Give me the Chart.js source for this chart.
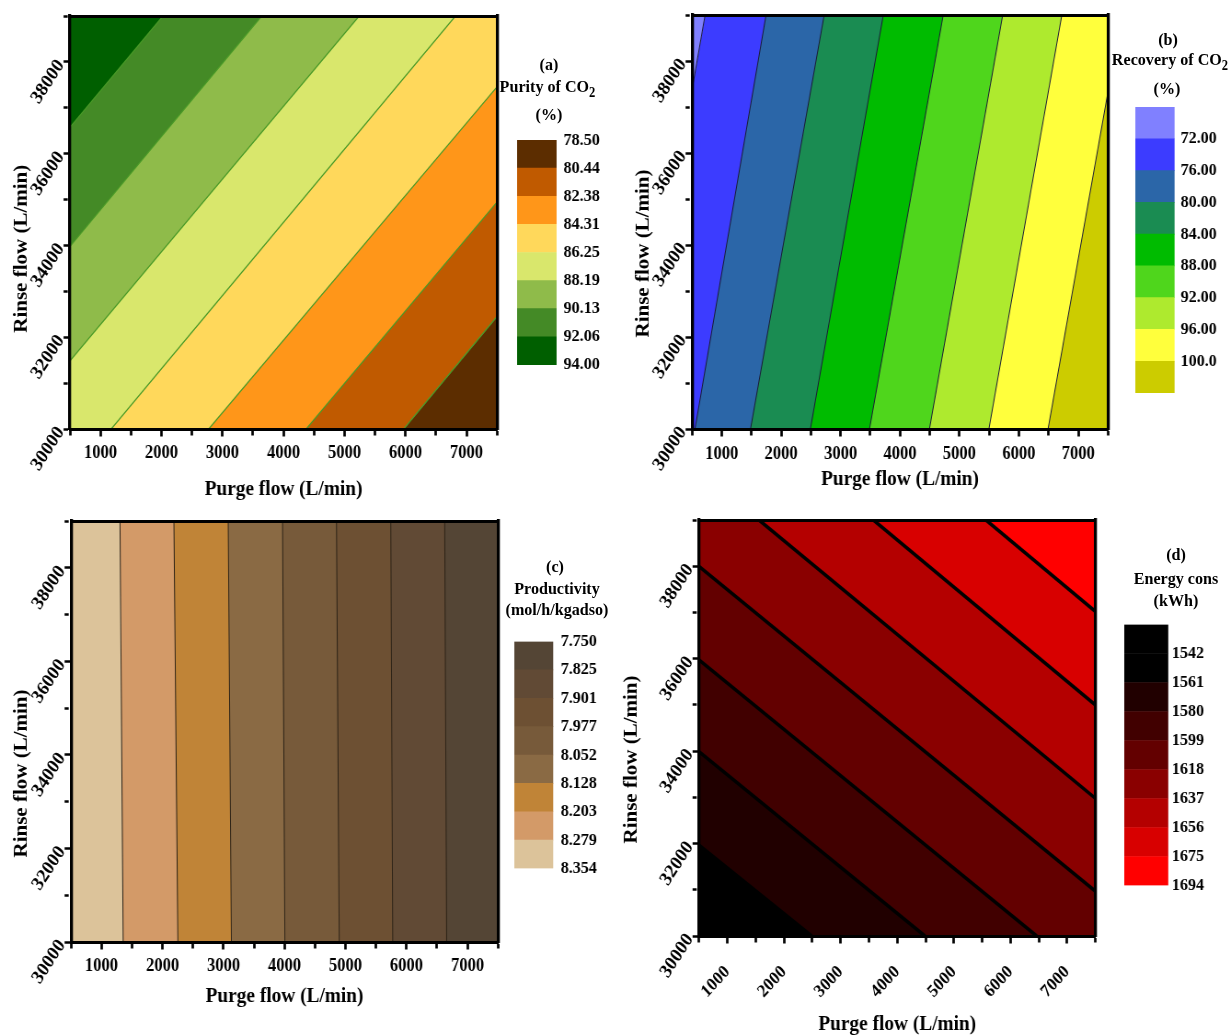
<!DOCTYPE html>
<html lang="en">
<head>
<meta charset="utf-8">
<title>Rinse / purge flow response surfaces</title>
<script src="https://cdn.jsdelivr.net/npm/chart.js@4.4.0/dist/chart.umd.min.js"></script>
<style>
  html, body { margin: 0; padding: 0; background: #fff; overflow: hidden; }
  #page { position: absolute; left: 0; top: 0; width: 1336px; height: 1035px;
          transform: scaleX(0.92); transform-origin: 0 0; }
  #page canvas { position: absolute; }
  .cbt { position: absolute; transform: translate(-50%, -50%);
         font-family: 'Liberation Serif', 'Times New Roman', serif; font-weight: bold;
         font-size: 17.5px; line-height: 1; white-space: nowrap; color: #000; }
  .cbt sub { font-size: 78%; vertical-align: -0.32em; line-height: 0; }
</style>
</head>
<body>
<div id="page"></div>
<script>
// ---------------- data ----------------
const purgeRange = [500, 7500];      // Purge flow (L/min)
const rinseRange = [30000, 39000];   // Rinse flow (L/min)

// (a) Purity of CO2 (%)
const purityLabels = ['78.50', '80.44', '82.38', '84.31', '86.25', '88.19', '90.13', '92.06', '94.00'];
const purityColors = ['#5c2d00', '#c05a00', '#ff9619', '#ffd85b', '#d9e76c', '#8fbb4a', '#448a26', '#005f00'];
// iso-lines 80.44 … 92.06: where each one enters and leaves the plot frame [purge, rinse]
const purityIsoFrom = [[5971, 30000], [4372, 30000], [2774, 30000], [1176, 30000], [500, 31484], [500, 33978], [500, 36575]];
const purityIsoTo   = [[7500, 32451], [7500, 34945], [7500, 37454], [6819, 39000], [5240, 39000], [3642, 39000], [2024, 39000]];

// (b) Recovery of CO2 (%)
const recoveryLabels = ['', '72.00', '76.00', '80.00', '84.00', '88.00', '92.00', '96.00', '100.0', ''];
const recoveryColors = ['#8080ff', '#3c3cff', '#2b66a8', '#1a8c52', '#00bb00', '#4fd61c', '#aeea2e', '#ffff3c', '#cccc00'];
// iso-lines 72 … 100
const recoveryIsoFrom = [[500, 37370], [550, 30000], [1484, 30000], [2492, 30000], [3487, 30000], [4495, 30000], [5496, 30000], [6491, 30000]];
const recoveryIsoTo   = [[720, 39000], [1746, 39000], [2724, 39000], [3719, 39000], [4727, 39000], [5728, 39000], [6723, 39000], [7500, 37333]];

// (c) Productivity (mol/h/kgadso)
const productivityLabels = ['7.750', '7.825', '7.901', '7.977', '8.052', '8.128', '8.203', '8.279', '8.354'];
const productivityColors = ['#544535', '#614a35', '#6d5033', '#775a3a', '#8a6a44', '#c08437', '#d39a68', '#dcc39a'];
// iso-lines 8.279 … 7.825 (left to right)
const productivityIsoFrom = [[1355, 30000], [2252, 30000], [3129, 30000], [4006, 30000], [4897, 30000], [5774, 30000], [6658, 30000]];
const productivityIsoTo   = [[1303, 39000], [2187, 39000], [3077, 39000], [3968, 39000], [4852, 39000], [5742, 39000], [6626, 39000]];

// (d) Energy consumption (kWh)
const energyLabels = ['', '1542', '1561', '1580', '1599', '1618', '1637', '1656', '1675', '1694'];
const energyColors = ['#000000', '#000000', '#210000', '#410000', '#630000', '#8a0000', '#b40000', '#d80000', '#ff0000'];
// iso-lines 1561 … 1675
const energyIsoFrom = [[500, 31965], [500, 33988], [500, 35975], [500, 37998], [1559, 39000], [3579, 39000], [5566, 39000]];
const energyIsoTo   = [[2488, 30000], [4488, 30000], [6461, 30000], [7500, 30968], [7500, 32977], [7500, 34997], [7500, 37020]];

// ---------------- drawing ----------------
const SX = 0.92;                 // the page is drawn wide and squeezed horizontally by SX
const px = v => v / SX;

Chart.defaults.font.family = "'Liberation Serif', 'Times New Roman', serif";
Chart.defaults.font.weight = 'bold';
Chart.defaults.color = '#000';

const page = document.getElementById('page');

function addCanvas(b) {
  const c = document.createElement('canvas');
  c.width = Math.round(b.w);
  c.height = Math.round(b.h);
  c.style.left = b.x + 'px';
  c.style.top = b.y + 'px';
  page.appendChild(c);
  return c;
}

function addText(html, x, y, size) {
  const d = document.createElement('div');
  d.className = 'cbt';
  d.innerHTML = html;
  d.style.left = x + 'px';
  d.style.top = y + 'px';
  if (size) d.style.fontSize = size + 'px';
  page.appendChild(d);
}

// minor ticks are drawn as a short dash of the full-length tick
const minorDash = (major, len) => ctx =>
  (ctx.tick && ctx.tick.value % major !== 0 ? [len, 100] : []);

// filled contour map: every band is the half plane beyond one iso-line,
// painted from the lowest level upwards so the higher band covers the rest
function contourPanel(o) {
  const box = o.box, plot = o.plot;
  box.w = Math.round(box.w);
  const cv = addCanvas(box);
  const from = o.from, to = o.to, n = from.length;
  const F = 1e5;
  const mid = i => [(from[i][0] + to[i][0]) / 2, (from[i][1] + to[i][1]) / 2];
  const dir = i => {
    const dx = to[i][0] - from[i][0], dy = to[i][1] - from[i][1], L = Math.hypot(dx, dy);
    return [dx / L, dy / L];
  };
  const upNormal = i => {
    const [ux, uy] = dir(i);
    const nx = -uy, ny = ux;
    const m = mid(i), r = i < n - 1 ? mid(i + 1) : mid(i - 1);
    let d = (r[0] - m[0]) * nx + (r[1] - m[1]) * ny;
    if (i === n - 1) d = -d;
    return d < 0 ? [-nx, -ny] : [nx, ny];
  };
  const halfPlane = (i, sign) => {
    const [ux, uy] = dir(i);
    const [nx, ny] = upNormal(i).map(v => v * sign);
    const a = [from[i][0] - ux * F, from[i][1] - uy * F];
    const b = [to[i][0] + ux * F, to[i][1] + uy * F];
    return [a, b, [b[0] + nx * F, b[1] + ny * F], [a[0] + nx * F, a[1] + ny * F]]
      .map(p => ({x: p[0], y: p[1]}));
  };

  const datasets = [];
  const bands = [halfPlane(0, -1)];
  for (let i = 0; i < n; i++) bands.push(halfPlane(i, 1));
  bands.forEach((poly, k) => {
    datasets.push({
      data: poly, showLine: true, fill: 'shape', backgroundColor: o.colors[k],
      borderColor: 'rgba(0,0,0,0)', borderWidth: 0, pointRadius: 0, pointHoverRadius: 0,
      tension: 0, order: -k
    });
  });
  for (let i = 0; i < n; i++) {
    datasets.push({
      data: [{x: from[i][0], y: from[i][1]}, {x: to[i][0], y: to[i][1]}],
      showLine: true, fill: false, borderColor: o.lineColor, borderWidth: o.lineWidth,
      pointRadius: 0, pointHoverRadius: 0, tension: 0, order: -100
    });
  }

  const tFont = {size: 21, weight: 'bold'};
  const half = 21 * 1.2 / 2;
  const frameAxis = (pos, axis) => ({
    axis: axis, type: 'linear', position: pos,
    min: axis === 'x' ? purgeRange[0] : rinseRange[0],
    max: axis === 'x' ? purgeRange[1] : rinseRange[1],
    afterFit: s => { if (axis === 'x') { s.height = 0; } else { s.width = 0; } },
    ticks: {display: false},
    grid: {display: true, drawOnChartArea: false, drawTicks: false},
    border: {display: true, color: '#000', width: axis === 'x' ? 3 : 3.3, z: 1}
  });

  new Chart(cv, {
    type: 'scatter',
    data: {datasets: datasets},
    options: {
      responsive: false, animation: false, events: [],
      layout: {padding: {left: 0, top: plot.T - box.y, right: box.x + box.w - plot.R, bottom: 0}},
      plugins: {legend: {display: false}, tooltip: {enabled: false}},
      scales: {
        x: {
          type: 'linear', position: 'bottom', min: purgeRange[0], max: purgeRange[1],
          afterFit: s => { s.height = box.y + box.h - plot.B; },
          ticks: {stepSize: 500, maxTicksLimit: 100, autoSkip: false,
                  minRotation: o.xRot, maxRotation: o.xRot, padding: o.xPad,
                  font: {size: 18}, callback: v => (v % 1000 === 0 ? String(v) : '')},
          grid: {display: true, drawOnChartArea: false, drawTicks: true, tickLength: 7.5,
                 tickWidth: 2.7, tickColor: '#000', tickBorderDash: minorDash(1000, 4.5)},
          border: {display: true, color: '#000', width: 3, z: 1},
          title: {display: true, text: 'Purge flow (L/min)', font: tFont,
                  padding: {top: 0, bottom: box.y + box.h - o.xTitleY - half}}
        },
        y: {
          type: 'linear', position: 'left', min: rinseRange[0], max: rinseRange[1],
          afterFit: s => { s.width = plot.L - box.x; },
          ticks: {stepSize: 1000, maxTicksLimit: 100, autoSkip: false,
                  minRotation: 55, maxRotation: 55, padding: 3,
                  font: {size: 19.5}, callback: v => (v % 2000 === 0 ? String(v) : '')},
          grid: {display: true, drawOnChartArea: false, drawTicks: true, tickLength: 7,
                 tickWidth: 2.5, tickColor: '#000', tickBorderDash: minorDash(2000, 4.5)},
          border: {display: true, color: '#000', width: 3.3, z: 1},
          title: {display: true, text: 'Rinse flow (L/min)' + '\u2002'.repeat(o.yShift), font: tFont,
                  padding: {top: o.yTitleX - box.x - half, bottom: 0}}
        },
        xTop: frameAxis('top', 'x'),
        yRight: frameAxis('right', 'y')
      }
    }
  });
}

// colour scale: a single stacked bar, boundary values on its right-hand axis
function colorBar(o) {
  const padR = 20, padL = 6, padV = 14, axisW = 60;
  const box = {x: o.L - padL, y: o.T - padV, w: Math.round((o.R - o.L) + padL + axisW + padR), h: (o.B - o.T) + 2 * padV};
  const cv = addCanvas(box);
  const N = o.colors.length;
  const bottomUp = o.colors.slice().reverse();
  new Chart(cv, {
    type: 'bar',
    data: {labels: [''], datasets: bottomUp.map(c => ({
      data: [1], backgroundColor: c, borderWidth: 0, barPercentage: 1, categoryPercentage: 1
    }))},
    options: {
      responsive: false, animation: false, events: [],
      layout: {padding: {left: padL, top: padV, bottom: padV, right: padR}},
      plugins: {legend: {display: false}, tooltip: {enabled: false}},
      scales: {
        x: {display: false, stacked: true},
        y: {
          stacked: true, position: 'right', min: 0, max: N,
          afterFit: s => { s.width = box.w - padL - padR - (o.R - o.L); },
          ticks: {stepSize: 1, maxTicksLimit: 100, autoSkip: false, padding: o.pad,
                  font: {size: 17.5}, callback: v => o.labels[N - v] || ''},
          grid: {display: false, drawTicks: false},
          border: {display: false}
        }
      }
    }
  });
}

// ---------------- panels ----------------
contourPanel({
  box: {x: 0, y: 0, w: px(497) + 20, h: 510},
  plot: {L: px(70), R: px(497), T: 16, B: 429},
  xTitleY: 490, yTitleX: px(21.7), yShift: 5, xRot: 0, xPad: 6,
  from: purityIsoFrom, to: purityIsoTo, colors: purityColors,
  lineColor: '#4a9a28', lineWidth: 1.2
});
contourPanel({
  box: {x: 670, y: 0, w: px(1108) + 20 - 670, h: 510},
  plot: {L: px(692), R: px(1108), T: 15, B: 429},
  xTitleY: 480, yTitleX: px(643.6), yShift: 6, xRot: 0, xPad: 7,
  from: recoveryIsoFrom, to: recoveryIsoTo, colors: recoveryColors,
  lineColor: '#1c1c38', lineWidth: 1
});
contourPanel({
  box: {x: 0, y: 500, w: px(498) + 20, h: 535},
  plot: {L: px(71), R: px(498), T: 521, B: 942},
  xTitleY: 997, yTitleX: px(21.7), yShift: 8, xRot: 0, xPad: 6,
  from: productivityIsoFrom, to: productivityIsoTo, colors: productivityColors.slice().reverse(),
  lineColor: '#2e2418', lineWidth: 1
});
contourPanel({
  box: {x: 670, y: 500, w: px(1108) + 20 - 670, h: 535},
  plot: {L: px(699), R: px(1108), T: 520, B: 936},
  xTitleY: 1025, yTitleX: px(631.7), yShift: 6, xRot: 45, xPad: 18,
  from: energyIsoFrom, to: energyIsoTo, colors: energyColors.slice(1),
  lineColor: '#000', lineWidth: 3.5
});

colorBar({L: px(517), R: px(556.5), T: 135.5, B: 368, pad: 7.6, colors: purityColors, labels: purityLabels});
colorBar({L: px(1135.7), R: px(1175), T: 104, B: 396, pad: 6.5, colors: recoveryColors, labels: recoveryLabels});
colorBar({L: px(514), R: px(553), T: 637, B: 873, pad: 8, colors: productivityColors, labels: productivityLabels});
colorBar({L: px(1124), R: px(1168), T: 624, B: 886, pad: 4, colors: energyColors, labels: energyLabels});

// colour-scale headings
addText('(a)', px(549), 65);
addText('Purity of CO<sub>2</sub>', px(547.5), 87);
addText('(%)', px(549), 115);
addText('(b)', px(1168), 39.5);
addText('Recovery of CO<sub>2</sub>', px(1170), 60);
addText('(%)', px(1167), 88.6);
addText('(c)', px(555), 567);
addText('Productivity', px(557), 589);
addText('(mol/h/kgadso)', px(557), 610);
addText('(d)', px(1176), 555);
addText('Energy cons', px(1176), 578.6);
addText('(kWh)', px(1176), 601);
</script>
</body>
</html>
